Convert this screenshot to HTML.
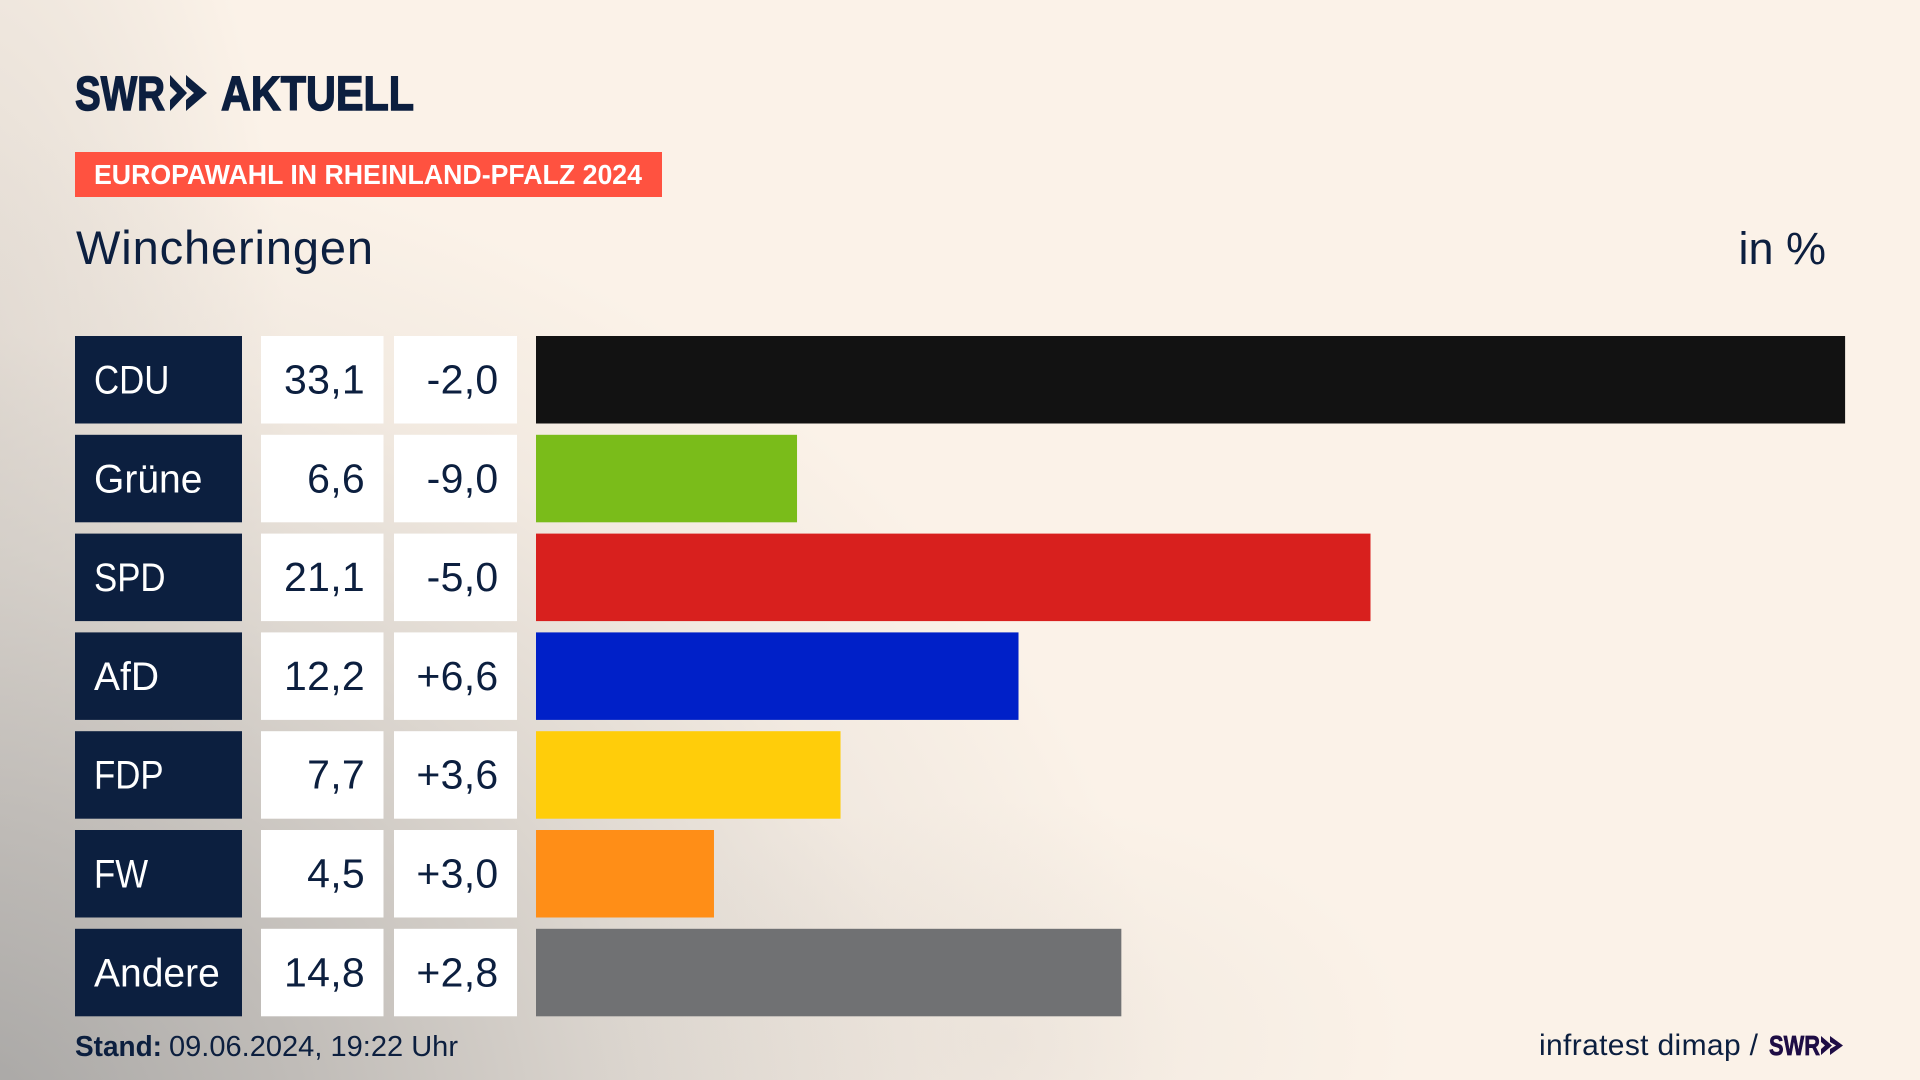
<!DOCTYPE html>
<html lang="de">
<head>
<meta charset="utf-8">
<title>Europawahl in Rheinland-Pfalz 2024 – Wincheringen</title>
<style>
html,body{margin:0;padding:0;width:1920px;height:1080px;overflow:hidden;background:#fbf2e8}
#bg{position:absolute;left:0;top:0;width:1920px;height:1080px;background:
 radial-gradient(ellipse 420px 240px at 1000px 1040px,rgba(190,185,180,.16) 0%,rgba(190,185,180,0) 100%),
 radial-gradient(ellipse 1240px 1010px at -60px 1140px,rgba(150,150,150,.85) 0%,rgba(170,168,166,.72) 30%,rgba(200,196,191,.58) 58%,rgba(222,215,208,.32) 80%,rgba(251,242,232,0) 100%),
 radial-gradient(ellipse 330px 760px at -40px 420px,rgba(190,185,180,.45) 0%,rgba(251,242,232,0) 100%),
 #fbf2e8}
svg{position:absolute;left:0;top:0}
text{font-family:"Liberation Sans",sans-serif}
</style>
</head>
<body>
<div id="bg"></div>
<svg id="chart" width="1920" height="1080" viewBox="0 0 1920 1080">
  <g fill="#0c1f3f" stroke="#0c1f3f" font-weight="700">
    <text x="75" y="110" font-size="48" stroke-width="1.4" textLength="90" lengthAdjust="spacingAndGlyphs">SWR</text>
    <polygon stroke="none" points="170,75 187,93 170,111 170,100 177,93 170,86"/>
    <polygon stroke="none" points="186,75 207,93 186,111 186,100 194,93 186,86"/>
    <text x="221" y="110" font-size="48" stroke-width="1.4" textLength="193" lengthAdjust="spacingAndGlyphs">AKTUELL</text>
  </g>
  <rect x="75" y="152" width="587" height="45" fill="#ff5240"/>
  <text x="94" y="184" font-size="28" font-weight="700" fill="#fff" textLength="548" lengthAdjust="spacingAndGlyphs">EUROPAWAHL IN RHEINLAND-PFALZ 2024</text>
  <text x="76" y="264" font-size="47" fill="#0c1f3f" textLength="297">Wincheringen</text>
  <text x="1826" y="264" font-size="45" fill="#0c1f3f" text-anchor="end">in %</text>
  <g id="rows"></g>
  <text x="75" y="1056" font-size="29" font-weight="700" fill="#0c1f3f" textLength="87" lengthAdjust="spacingAndGlyphs">Stand:</text>
  <text x="169" y="1056" font-size="29" fill="#0c1f3f" textLength="289">09.06.2024, 19:22 Uhr</text>
  <text x="1539" y="1055" font-size="30" fill="#0c1f3f" textLength="219">infratest dimap /</text>
  <g fill="#1e0d45">
    <text x="1769" y="1055" font-size="28" font-weight="700" stroke="#1e0d45" stroke-width="0.7" textLength="51" lengthAdjust="spacingAndGlyphs">SWR</text>
    <polygon points="1821,1036 1832,1045.5 1821,1055 1821,1049 1825,1045.5 1821,1042"/>
    <polygon points="1830,1036 1843,1045.5 1830,1055 1830,1049 1836,1045.5 1830,1042"/>
  </g>
</svg>
<script>
const parties = ["CDU", "Grüne", "SPD", "AfD", "FDP", "FW", "Andere"];
const shares = [33.1, 6.6, 21.1, 12.2, 7.7, 4.5, 14.8];
const changes = [-2.0, -9.0, -5.0, 6.6, 3.6, 3.0, 2.8];
const partyColors = ["#121212", "#7abc1a", "#d8201e", "#0020c8", "#ffcd0a", "#ff8e17", "#707173"];

const NS = "http://www.w3.org/2000/svg";
const rowsGroup = document.getElementById("rows");
const barStart = 536;
const pxPerPercent = 39.55;
const rowTop = 336;
const rowPitch = 98.8;
const rowHeight = 87.5;

function xScale(value) { return value * pxPerPercent; }
function yScale(index) { return rowTop + index * rowPitch; }
function formatShare(value) { return value.toFixed(1).replace(".", ","); }
function formatChange(value) { return (value > 0 ? "+" : "") + value.toFixed(1).replace(".", ","); }

function makeRect(x, y, w, h, fill) {
  const r = document.createElementNS(NS, "rect");
  r.setAttribute("x", x);
  r.setAttribute("y", y);
  r.setAttribute("width", w);
  r.setAttribute("height", h);
  r.setAttribute("fill", fill);
  return r;
}
function makeText(x, y, str, fill, anchor, size, spacing) {
  const t = document.createElementNS(NS, "text");
  t.setAttribute("x", x);
  t.setAttribute("y", y);
  t.setAttribute("font-size", size);
  t.setAttribute("fill", fill);
  t.setAttribute("text-anchor", anchor);
  t.setAttribute("letter-spacing", spacing);
  t.textContent = str;
  return t;
}
function condenseLabel(t, str) {
  const ratio = str === str.toUpperCase() ? 0.87 : 0.975;
  t.setAttribute("textLength", t.getComputedTextLength() * ratio);
  t.setAttribute("lengthAdjust", "spacingAndGlyphs");
}

parties.forEach(function (party, i) {
  const y = yScale(i);
  const base = y + 57.5;

  const labelBox = makeRect(75, y, 167, rowHeight, "#0c1f3f");
  
  
  rowsGroup.appendChild(labelBox);

  const label = makeText(94, base, party, "#ffffff", "start", "40", "0");
  
  
  rowsGroup.appendChild(label);
  condenseLabel(label, party);

  const shareBox = makeRect(261, y, 122.5, rowHeight, "#ffffff");
  
  
  rowsGroup.appendChild(shareBox);

  const shareText = makeText(365, base, formatShare(shares[i]), "#0c1f3f", "end", "41", "0.3");
  
  
  rowsGroup.appendChild(shareText);

  const changeBox = makeRect(394, y, 123, rowHeight, "#ffffff");
  
  
  rowsGroup.appendChild(changeBox);

  const changeText = makeText(498.5, base, formatChange(changes[i]), "#0c1f3f", "end", "41", "0.3");
  
  
  rowsGroup.appendChild(changeText);

  const bar = makeRect(barStart, y, xScale(shares[i]), rowHeight, partyColors[i]);
  
  
  rowsGroup.appendChild(bar);
});
</script>
</body>
</html>
